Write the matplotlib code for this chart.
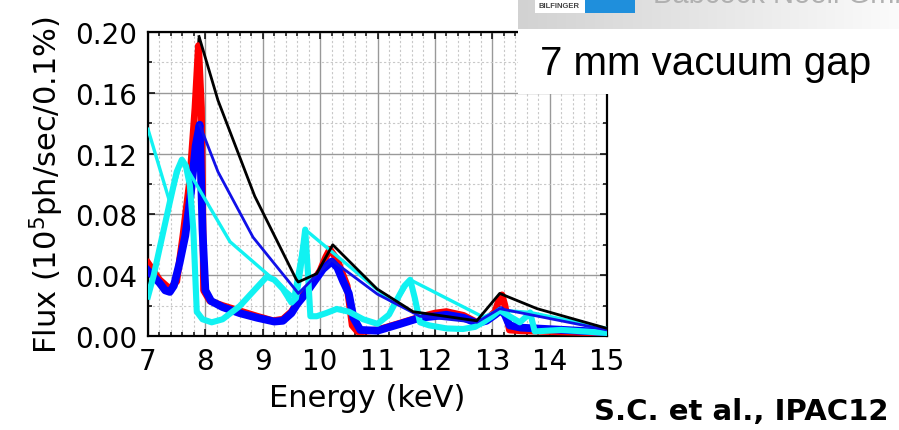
import numpy as np
import matplotlib.pyplot as plt
from matplotlib.patches import Rectangle
from matplotlib.ticker import MultipleLocator

plt.rcParams['font.family'] = ['DejaVu Sans']
plt.rcParams['mathtext.default'] = 'regular'

# detailed spectra (energy in keV, flux in 1e15 ph/sec/0.1%)
e_black = [7.0, 7.2, 7.38, 7.5, 7.61, 7.73, 7.82, 7.89, 7.93, 7.98, 8.08, 8.3, 8.6, 8.9,
           9.18, 9.35, 9.5, 9.6, 9.75, 9.88, 10.0, 10.1, 10.17, 10.3, 10.4, 10.47, 10.56,
           10.65, 10.75, 11.0, 11.4, 11.74, 12.0, 12.2, 12.5, 12.73, 12.9, 13.05, 13.12,
           13.17, 13.22, 13.3, 13.5, 14.0, 14.5, 15.0]
f_black = [0.047, 0.036, 0.030, 0.036, 0.066, 0.103, 0.15, 0.196, 0.15, 0.03, 0.023, 0.020,
           0.0165, 0.013, 0.010, 0.011, 0.016, 0.022, 0.029, 0.036, 0.043, 0.052, 0.057,
           0.050, 0.040, 0.033, 0.007, 0.003, 0.003, 0.004, 0.0085, 0.0125, 0.0145, 0.0155,
           0.013, 0.009, 0.011, 0.016, 0.024, 0.027, 0.020, 0.004, 0.0035, 0.003, 0.0025, 0.002]

e_red = [7.0, 7.2, 7.38, 7.5, 7.61, 7.73, 7.82, 7.88, 7.93, 7.97, 8.08, 8.3, 8.6, 8.9,
         9.18, 9.35, 9.5, 9.6, 9.75, 9.88, 10.0, 10.1, 10.17, 10.3, 10.4, 10.47, 10.56,
         10.65, 10.75, 11.0, 11.4, 11.74, 12.0, 12.2, 12.5, 12.73, 12.9, 13.05, 13.12,
         13.17, 13.22, 13.3, 13.5, 14.0, 14.5, 15.0]
f_red = [0.048, 0.037, 0.031, 0.036, 0.066, 0.103, 0.15, 0.191, 0.15, 0.03, 0.023, 0.020,
         0.0165, 0.013, 0.010, 0.011, 0.016, 0.022, 0.029, 0.036, 0.043, 0.052, 0.057,
         0.050, 0.040, 0.033, 0.007, 0.003, 0.003, 0.004, 0.0085, 0.0125, 0.015, 0.016,
         0.0135, 0.009, 0.011, 0.016, 0.024, 0.027, 0.020, 0.004, 0.0035, 0.003, 0.0025, 0.002]

e_blue = [7.0, 7.2, 7.3, 7.38, 7.45, 7.55, 7.65, 7.75, 7.83, 7.9, 7.95, 8.0, 8.1, 8.3,
          8.6, 8.9, 9.2, 9.35, 9.5, 9.6, 9.75, 9.9, 10.05, 10.2, 10.3, 10.4, 10.5, 10.58,
          10.7, 11.0, 11.4, 11.74, 12.0, 12.2, 12.5, 12.73, 12.9, 13.05, 13.15, 13.22,
          13.3, 13.5, 14.0, 14.5, 15.0]
f_blue = [0.043, 0.035, 0.030, 0.029, 0.033, 0.048, 0.066, 0.095, 0.125, 0.139, 0.07,
          0.030, 0.023, 0.019, 0.015, 0.012, 0.0095, 0.010, 0.015, 0.021, 0.028, 0.036,
          0.044, 0.049, 0.045, 0.036, 0.028, 0.012, 0.004, 0.0035, 0.008, 0.012, 0.013,
          0.014, 0.012, 0.0085, 0.010, 0.014, 0.017, 0.014, 0.007, 0.0055, 0.0045,
          0.0035, 0.0025]

e_cyan = [7.0, 7.1, 7.21, 7.38, 7.5, 7.59, 7.66, 7.73, 7.79, 7.85, 7.95, 8.11, 8.3, 8.6,
          8.85, 9.07, 9.2, 9.35, 9.5, 9.58, 9.66, 9.74, 9.79, 9.83, 9.94, 10.1, 10.29,
          10.5, 10.75, 11.0, 11.2, 11.34, 11.47, 11.57, 11.65, 11.74, 11.9, 12.2, 12.49,
          12.7, 12.84, 13.0, 13.13, 13.3, 13.48, 13.6, 13.66, 13.74, 14.2, 14.6, 15.0]
f_cyan = [0.026, 0.04, 0.059, 0.088, 0.108, 0.116, 0.112, 0.099, 0.07, 0.016, 0.011,
          0.009, 0.011, 0.0197, 0.030, 0.039, 0.037, 0.031, 0.022, 0.025, 0.045, 0.070,
          0.040, 0.013, 0.013, 0.015, 0.0178, 0.016, 0.011, 0.008, 0.014, 0.024, 0.033,
          0.037, 0.025, 0.009, 0.007, 0.005, 0.0046, 0.006, 0.009, 0.013, 0.017, 0.013,
          0.009, 0.013, 0.0155, 0.003, 0.004, 0.003, 0.002]

# peak-to-peak envelopes
e_black_env = [7.89, 8.22, 8.86, 9.58, 9.62, 9.94, 10.22, 10.99, 11.62, 12.73, 13.13, 13.78, 15.0]
f_black_env = [0.197, 0.155, 0.092, 0.0375, 0.0355, 0.041, 0.060, 0.031, 0.016, 0.010, 0.028, 0.018, 0.005]

e_blue_env = [7.9, 8.22, 8.83, 9.6, 9.62, 10.2, 11.0, 11.74, 12.73, 13.13, 15.0]
f_blue_env = [0.139, 0.108, 0.065, 0.029, 0.028, 0.050, 0.0275, 0.013, 0.009, 0.018, 0.004]

e_cyan_env = [7.0, 7.38, 7.59, 8.43, 9.53, 9.74, 11.3, 11.57, 12.84, 13.13, 13.66, 15.0]
f_cyan_env = [0.136, 0.088, 0.116, 0.062, 0.026, 0.070, 0.021, 0.037, 0.0125, 0.017, 0.0155, 0.005]

fig = plt.figure(figsize=(8.99, 4.31), dpi=100)
ax = fig.add_axes([148 / 899, 94 / 431, 459 / 899, 304 / 431])

ax.plot(e_black, f_black, color='black', lw=2.2, zorder=3)
ax.plot(e_red, f_red, color='#ff0000', lw=5.0, zorder=4)
ax.plot(e_blue, f_blue, color='#0000ff', lw=5.6, zorder=5)
ax.plot(e_cyan, f_cyan, color='#11f2f2', lw=4.4, zorder=6)
ax.plot(e_cyan_env, f_cyan_env, color='#11f2f2', lw=2.4, zorder=7)
ax.plot(e_blue_env, f_blue_env, color='#1010e8', lw=2.0, zorder=8)
ax.plot(e_black_env, f_black_env, color='black', lw=2.0, zorder=9)

ax.set_xlim(7, 15)
ax.set_ylim(0, 0.2)
ax.xaxis.set_major_locator(MultipleLocator(1))
ax.xaxis.set_minor_locator(MultipleLocator(0.2))
ax.yaxis.set_major_locator(MultipleLocator(0.04))
ax.yaxis.set_minor_locator(MultipleLocator(0.02))
ax.yaxis.set_major_formatter(plt.FuncFormatter(lambda v, p: f'{v:.2f}'))

ax.grid(which='major', color='#999999', lw=1.0, ls='-')
ax.grid(which='minor', color='#c8c8c8', lw=0.8, ls=(0, (2, 2)))
ax.set_axisbelow(True)

ax.tick_params(which='both', direction='in', top=True, right=True, width=1.1,
               labelsize=20, pad=8)
ax.tick_params(which='major', length=5)
ax.tick_params(which='minor', length=3)
for s in ax.spines.values():
    s.set_linewidth(1.6)

ax.set_xlabel('Energy (keV)', fontsize=22, labelpad=7)
ax.xaxis.set_label_coords(0.477, -0.155)
ax.set_ylabel('Flux (10$^5$ph/sec/0.1%)', fontsize=22, labelpad=6)

# white caption box over the top right
fig.add_artist(Rectangle((518 / 899, 1 - 95 / 431), 381 / 899, 95 / 431,
                         transform=fig.transFigure, facecolor='white',
                         edgecolor='none', zorder=5))
fig.text(540 / 899, 1 - 75 / 431, '7 mm vacuum gap', fontsize=29,
         family='Liberation Sans', va='baseline', ha='left', zorder=7)

# logo strip
lx = fig.add_axes([518 / 899, 1 - 30 / 431, 381 / 899, 30 / 431], zorder=6)
grad = np.linspace(0, 1, 256).reshape(1, -1)
lx.imshow(grad, cmap=plt.matplotlib.colors.LinearSegmentedColormap.from_list(
    'band', ['#d2d2d2', '#e6e6e6', '#fbfbfb']), aspect='auto',
    extent=[0, 1, 0, 1])
lx.add_patch(Rectangle((17 / 381, 16 / 30), 50 / 381, 14 / 30, facecolor='white',
                       edgecolor='none'))
lx.add_patch(Rectangle((67 / 381, 16 / 30), 50 / 381, 14 / 30, facecolor='#1f8fdc',
                       edgecolor='none'))
lx.text(41 / 381, 24 / 30, 'BILFINGER', fontsize=5.5, fontweight='bold',
        color='#444444', family='Liberation Sans', ha='center', va='center')
lx.text(135 / 381, 27 / 30, 'Babcock Noell GmbH', fontsize=21, color='#b0b0b0',
        family='Liberation Sans', ha='left', va='baseline', clip_on=True)
lx.set_xlim(0, 1)
lx.set_ylim(0, 1)
lx.axis('off')

fig.text(888 / 899, 1 - 420 / 431, 'S.C. et al., IPAC12', fontsize=21,
         fontweight='bold', ha='right', va='baseline')

fig.savefig('out.png', dpi=100)
